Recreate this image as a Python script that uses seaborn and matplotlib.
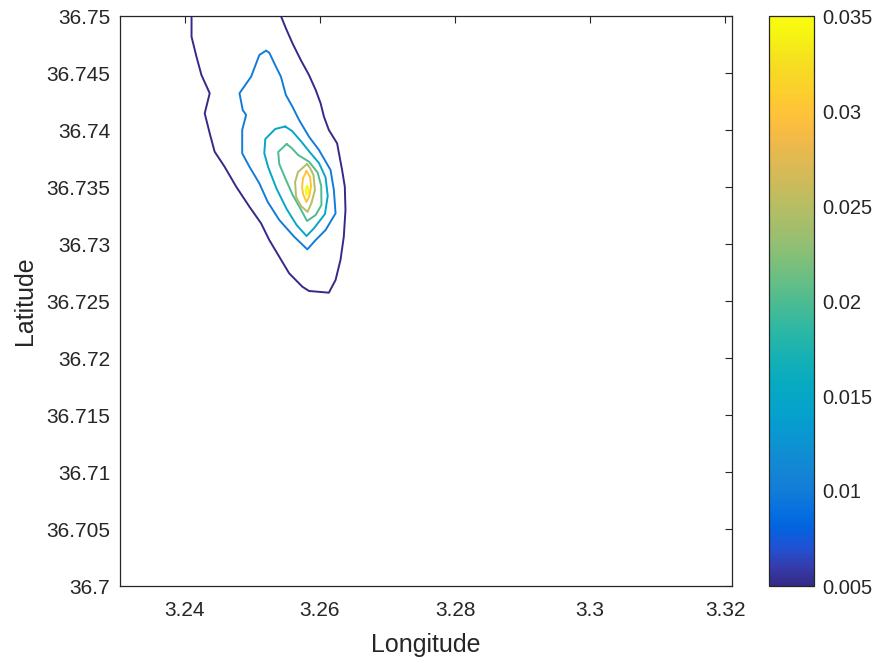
import numpy as np
import pandas as pd
import matplotlib
matplotlib.use("Agg")
import matplotlib.pyplot as plt
import seaborn as sns
from matplotlib.colors import LinearSegmentedColormap, Normalize
import matplotlib.cm as cm

sns.set_theme(style="white")
plt.rcParams['font.family'] = ['Liberation Sans', 'DejaVu Sans']

# ---------------- data: contour levels and contour paths (lon, lat) ----------------
levels = [0.005, 0.010, 0.015, 0.020, 0.025, 0.030, 0.035]

lon_005 = [3.24099, 3.24099, 3.24172, 3.24246, 3.24368, 3.24294, 3.24368, 3.24441, 3.24588,
           3.24760, 3.24956, 3.25128, 3.25250, 3.25397, 3.25544, 3.25740, 3.25838, 3.26132,
           3.26231, 3.26304, 3.26353, 3.26378, 3.26368, 3.26328, 3.26254, 3.26132, 3.26059,
           3.26010, 3.25937, 3.25838, 3.25716, 3.25593, 3.25496, 3.25422]
lat_005 = [36.75000, 36.74818, 36.74643, 36.74482, 36.74322, 36.74146, 36.73971, 36.73810, 36.73678,
           36.73503, 36.73327, 36.73182, 36.73035, 36.72889, 36.72743, 36.72625, 36.72588, 36.72573,
           36.72684, 36.72860, 36.73064, 36.73298, 36.73503, 36.73649, 36.73883, 36.74000, 36.74117,
           36.74234, 36.74351, 36.74482, 36.74614, 36.74761, 36.74892, 36.75000]

lon_010 = [3.25201, 3.25103, 3.24981, 3.24809, 3.24857, 3.24907, 3.24849, 3.24849, 3.24956,
           3.25103, 3.25225, 3.25397, 3.25618, 3.25813, 3.25937, 3.26084, 3.26231, 3.26206,
           3.26157, 3.25985, 3.25838, 3.25691, 3.25593, 3.25496, 3.25422, 3.25349, 3.25250, 3.25201]
lat_010 = [36.74696, 36.74658, 36.74468, 36.74322, 36.74175, 36.74132, 36.74000, 36.73796, 36.73678,
           36.73532, 36.73371, 36.73211, 36.73064, 36.72953, 36.73035, 36.73123, 36.73269, 36.73474,
           36.73649, 36.73825, 36.73941, 36.74088, 36.74204, 36.74307, 36.74468, 36.74555, 36.74678, 36.74696]

lon_015 = [3.25485, 3.25338, 3.25191, 3.25176, 3.25235, 3.25360, 3.25507, 3.25654, 3.25801,
           3.25912, 3.26074, 3.26115, 3.26084, 3.25985, 3.25860, 3.25728, 3.25588, 3.25485]
lat_015 = [36.74031, 36.74009, 36.73921, 36.73796, 36.73671, 36.73482, 36.73307, 36.73167, 36.73070,
           36.73138, 36.73263, 36.73421, 36.73583, 36.73711, 36.73798, 36.73895, 36.73991, 36.74031]

lon_020 = [3.25507, 3.25382, 3.25397, 3.25485, 3.25596, 3.25706, 3.25809, 3.25937, 3.26022,
           3.26019, 3.25966, 3.25838, 3.25676, 3.25581, 3.25507]
lat_020 = [36.73877, 36.73807, 36.73702, 36.73579, 36.73430, 36.73316, 36.73202, 36.73254, 36.73342,
           36.73509, 36.73627, 36.73722, 36.73781, 36.73842, 36.73877]

lon_025 = [3.25809, 3.25676, 3.25632, 3.25647, 3.25721, 3.25816, 3.25875, 3.25926, 3.25904, 3.25853, 3.25809]
lat_025 = [36.73702, 36.73632, 36.73544, 36.73412, 36.73333, 36.73281, 36.73360, 36.73474, 36.73605, 36.73667, 36.73702]

lon_030 = [3.25801, 3.25750, 3.25735, 3.25750, 3.25801, 3.25843, 3.25868, 3.25853, 3.25801]
lat_030 = [36.73640, 36.73579, 36.73500, 36.73439, 36.73368, 36.73421, 36.73509, 36.73588, 36.73640]

lon_035 = [3.25809, 3.25790, 3.25801, 3.25828, 3.25824, 3.25809]
lat_035 = [36.73509, 36.73474, 36.73430, 36.73456, 36.73491, 36.73509]

x_ticks = [3.24, 3.26, 3.28, 3.30, 3.32]
x_ticklabels = ['3.24', '3.26', '3.28', '3.3', '3.32']
y_ticks = [36.70, 36.705, 36.71, 36.715, 36.72, 36.725, 36.73, 36.735, 36.74, 36.745, 36.75]
y_ticklabels = ['36.7', '36.705', '36.71', '36.715', '36.72', '36.725', '36.73', '36.735', '36.74', '36.745', '36.75']
cb_ticks = [0.005, 0.01, 0.015, 0.02, 0.025, 0.03, 0.035]
cb_ticklabels = ['0.005', '0.01', '0.015', '0.02', '0.025', '0.03', '0.035']

paths = [(lon_005, lat_005), (lon_010, lat_010), (lon_015, lat_015), (lon_020, lat_020),
         (lon_025, lat_025), (lon_030, lat_030), (lon_035, lat_035)]

rows = []
for lev, (lo, la) in zip(levels, paths):
    for i, (a, b) in enumerate(zip(lo, la)):
        rows.append({'lon': a, 'lat': b, 'level': lev, 'order': i})
df = pd.DataFrame(rows)

# ---------------- parula-like colormap ----------------
parula_rgb = [
    (0.2081, 0.1663, 0.5292), (0.2081, 0.2386, 0.6771), (0.1253, 0.3242, 0.8303),
    (0.0117, 0.3875, 0.8820), (0.0329, 0.4430, 0.8720), (0.0723, 0.4887, 0.8467),
    (0.0793, 0.5200, 0.8312), (0.0641, 0.5570, 0.8240), (0.0343, 0.5966, 0.8199),
    (0.0239, 0.6287, 0.8038), (0.0228, 0.6535, 0.7768), (0.0384, 0.6743, 0.7436),
    (0.0843, 0.6928, 0.7062), (0.1453, 0.7098, 0.6646), (0.2178, 0.7250, 0.6193),
    (0.3022, 0.7376, 0.5712), (0.3953, 0.7459, 0.5244), (0.4871, 0.7491, 0.4840),
    (0.5709, 0.7485, 0.4494), (0.6473, 0.7456, 0.4188), (0.7184, 0.7411, 0.3905),
    (0.7858, 0.7356, 0.3633), (0.8507, 0.7299, 0.3360), (0.9139, 0.7258, 0.3063),
    (0.9739, 0.7314, 0.2666), (0.9990, 0.7653, 0.2164), (0.9880, 0.8066, 0.1794),
    (0.9697, 0.8481, 0.1475), (0.9589, 0.8949, 0.1132), (0.9661, 0.9514, 0.0755),
    (0.9763, 0.9831, 0.0538)]
parula = LinearSegmentedColormap.from_list('parula', parula_rgb, N=256)
norm = Normalize(vmin=0.005, vmax=0.035)

# ---------------- figure ----------------
W, H = 877, 663
fig = plt.figure(figsize=(W / 100, H / 100), dpi=100)
fig.patch.set_facecolor('white')
ax = fig.add_axes([120 / W, 1 - 586 / H, (732 - 120) / W, (586 - 16) / H])
cax = fig.add_axes([769 / W, 1 - 586 / H, 45 / W, (586 - 16) / H])

sns.lineplot(data=df, x='lon', y='lat', hue='level', palette=parula, hue_norm=norm,
             sort=False, estimator=None, legend=False, linewidth=1.4, ax=ax)

txt = '#262626'
ax.set_xlim(3.2304, 3.3210)
ax.set_ylim(36.70, 36.75)
ax.set_xticks(x_ticks)
ax.set_xticklabels(x_ticklabels)
ax.set_yticks(y_ticks)
ax.set_yticklabels(y_ticklabels)
ax.tick_params(direction='in', top=True, right=True, length=5, width=0.8,
               color=txt, labelcolor=txt, labelsize=15)
ax.tick_params(axis='x', pad=11)
ax.tick_params(axis='y', pad=7)
for s in ax.spines.values():
    s.set_visible(True)
    s.set_color(txt)
    s.set_linewidth(0.9)
ax.set_xlabel('Longitude', fontsize=18, color=txt, labelpad=9)
ax.set_ylabel('Latitude', fontsize=18, color=txt, labelpad=7)
ax.grid(False)
ax.set_facecolor('white')

sm = cm.ScalarMappable(norm=norm, cmap=parula)
cb = fig.colorbar(sm, cax=cax)
cb.set_ticks(cb_ticks)
cb.set_ticklabels(cb_ticklabels)
cax.tick_params(direction='in', length=5, width=0.8, color=txt, labelcolor=txt,
                labelsize=14.5, pad=6)
cb.outline.set_edgecolor(txt)
cb.outline.set_linewidth(0.9)

fig.savefig('out.png', dpi=100, facecolor='white')
